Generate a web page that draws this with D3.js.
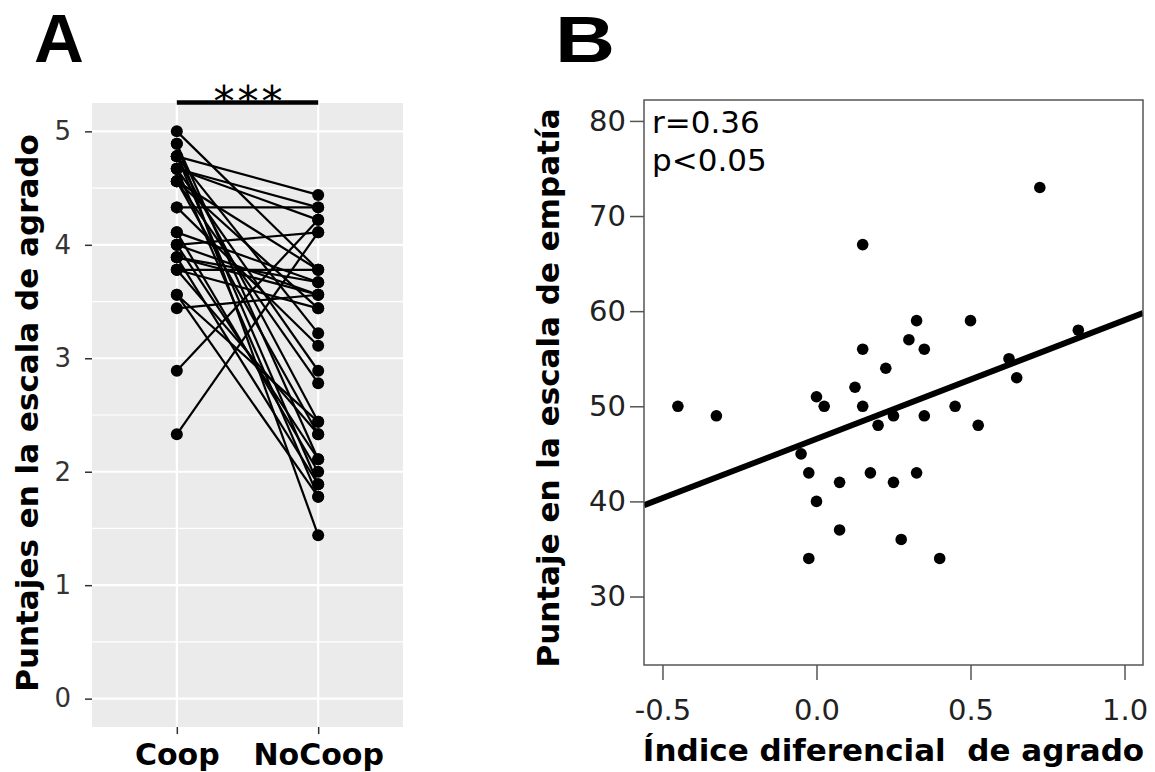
<!DOCTYPE html>
<html>
<head>
<meta charset="utf-8">
<script src="https://cdn.jsdelivr.net/npm/d3@7"></script>
<style>
  body { margin: 0; background: white; }
  text { font-family: "DejaVu Sans", sans-serif; }
</style>
</head>
<body>
<svg id="chart" width="1155" height="772"></svg>
<script>
// Panel A data: one entry per subject (Coop -> NoCoop)
const conditions = ["Coop", "NoCoop"];
const coop = [5.00, 4.89, 4.89, 4.78, 4.78, 4.78, 4.78, 4.67, 4.67, 4.67, 4.67,
  4.56, 4.56, 4.56, 4.56, 4.33, 4.33, 4.11, 4.11, 4.00, 4.00, 4.00,
  3.89, 3.89, 3.89, 3.78, 3.78, 3.78, 3.56, 3.56, 3.44, 2.89, 2.33];
const noCoop = [3.78, 1.44, 2.11, 4.44, 2.44, 3.22, 1.89, 4.33, 4.22, 2.89, 1.78,
  3.78, 3.44, 2.33, 2.78, 4.33, 3.11, 3.67, 2.00, 4.11, 3.56, 2.11,
  3.56, 1.89, 3.67, 3.78, 2.33, 3.44, 1.78, 2.44, 3.56, 4.22, 4.11];
const aTicks = [0, 1, 2, 3, 4, 5];
const aMinor = [0.5, 1.5, 2.5, 3.5, 4.5];

// Panel B data
const indice = [0.725, 0.15, 0.325, 0.5, 0.85, 0.3, 0.15, 0.35, -0.45, -0.325,
  0.0, 0.025, 0.125, 0.15, 0.225, 0.25, 0.2, 0.35, 0.45, 0.525, 0.625, 0.65,
  -0.05, -0.025, 0.175, 0.325, 0.075, 0.25, 0.0, 0.075, 0.275, -0.025, 0.4];
const empatia = [73, 67, 59, 59, 58, 57, 56, 56, 50, 49,
  51, 50, 52, 50, 54, 49, 48, 49, 50, 48, 55, 53,
  45, 43, 43, 43, 42, 42, 40, 37, 36, 34, 34];
const bxTicks = [-0.5, 0.0, 0.5, 1.0];
const byTicks = [30, 40, 50, 60, 70, 80];

const svg = d3.select("#chart");

// ---------- Panel A ----------
const aLeft = 92, aRight = 403, aTop = 103, aBottom = 727;
const ax = d3.scalePoint().domain(conditions).range([aLeft, aRight]).padding(0.6);
const ay = d3.scaleLinear().domain([-0.25, 5.25]).range([aBottom, aTop]);

const gA = svg.append("g");
gA.append("rect")
  .attr("x", aLeft).attr("y", aTop)
  .attr("width", aRight - aLeft).attr("height", aBottom - aTop)
  .attr("fill", "#EBEBEB");

// grid
gA.selectAll("line.minor").data(aMinor).enter().append("line")
  .attr("x1", aLeft).attr("x2", aRight)
  .attr("y1", d => ay(d)).attr("y2", d => ay(d))
  .attr("stroke", "white").attr("stroke-width", 1.2);
gA.selectAll("line.major").data(aTicks).enter().append("line")
  .attr("x1", aLeft).attr("x2", aRight)
  .attr("y1", d => ay(d)).attr("y2", d => ay(d))
  .attr("stroke", "white").attr("stroke-width", 2.2);
gA.selectAll("line.vgrid").data(conditions).enter().append("line")
  .attr("x1", d => ax(d)).attr("x2", d => ax(d))
  .attr("y1", aTop).attr("y2", aBottom)
  .attr("stroke", "white").attr("stroke-width", 2.2);

// axes
const yAxisA = gA.append("g").attr("transform", `translate(${aLeft},0)`)
  .call(d3.axisLeft(ay).tickValues(aTicks).tickSize(7).tickPadding(14).tickFormat(d3.format("d")));
const xAxisA = gA.append("g").attr("transform", `translate(0,${aBottom})`)
  .call(d3.axisBottom(ax).tickSize(7));
[yAxisA, xAxisA].forEach(a => {
  a.select(".domain").remove();
  a.selectAll(".tick line").attr("stroke", "#333").attr("stroke-width", 1.5);
});
yAxisA.selectAll(".tick text")
  .style("font-size", "26px").attr("fill", "#333");
xAxisA.selectAll(".tick text")
  .style("font-size", "30px").style("font-weight", "bold").attr("fill", "black")
  .attr("y", 38).attr("dy", 0);

// paired lines
const pairs = coop.map((c, i) => ({ c: c, n: noCoop[i] }));
gA.selectAll("line.pair").data(pairs).enter().append("line")
  .attr("x1", ax("Coop")).attr("y1", d => ay(d.c))
  .attr("x2", ax("NoCoop")).attr("y2", d => ay(d.n))
  .attr("stroke", "black").attr("stroke-width", 2.2);

// points
[["Coop", "c"], ["NoCoop", "n"]].forEach(([cond, key]) => {
  gA.selectAll("circle." + cond).data(pairs).enter().append("circle")
    .attr("cx", ax(cond)).attr("cy", d => ay(d[key]))
    .attr("r", 6).attr("fill", "black");
});

// significance bar
gA.append("line")
  .attr("x1", ax("Coop")).attr("x2", ax("NoCoop"))
  .attr("y1", 102.5).attr("y2", 102.5)
  .attr("stroke", "black").attr("stroke-width", 4.5);
gA.append("text")
  .attr("x", (ax("Coop") + ax("NoCoop")) / 2 + 2).attr("y", 116)
  .attr("text-anchor", "middle")
  .style("font-size", "42px").style("letter-spacing", "3px")
  .text("***");

gA.append("text")
  .attr("transform", "translate(38,413) rotate(-90)")
  .attr("text-anchor", "middle")
  .style("font-size", "31px").style("font-weight", "bold")
  .text("Puntajes en la escala de agrado");

svg.append("text")
  .attr("x", 34).attr("y", 62)
  .style("font-family", "Liberation Sans, Arial, sans-serif")
  .style("font-size", "69px").style("font-weight", "bold")
  .text("A");

// ---------- Panel B ----------
const bLeft = 644, bRight = 1143, bTop = 100, bBottom = 665;
const bx = d3.scaleLinear().domain([-0.56, 1.06]).range([bLeft, bRight]);
const by = d3.scaleLinear().domain([22.8, 82.2]).range([bBottom, bTop]);

const gB = svg.append("g");

const xAxisB = gB.append("g").attr("transform", `translate(0,${bBottom})`)
  .call(d3.axisBottom(bx).tickValues(bxTicks).tickSize(15).tickPadding(19).tickFormat(d3.format(".1f")));
const yAxisB = gB.append("g").attr("transform", `translate(${bLeft},0)`)
  .call(d3.axisLeft(by).tickValues(byTicks).tickSize(14).tickPadding(4));
[xAxisB, yAxisB].forEach(a => {
  a.select(".domain").remove();
  a.selectAll(".tick line").attr("stroke", "#555").attr("stroke-width", 1.5);
  a.selectAll(".tick text").style("font-size", "29px").attr("fill", "#222");
});
xAxisB.selectAll(".tick text").text(d => d3.format(".1f")(d).replace("−", "-"));

// regression line (least squares on the points)
const mx = d3.mean(indice), my = d3.mean(empatia);
const slope = d3.sum(indice, (v, i) => (v - mx) * (empatia[i] - my)) /
  d3.sum(indice, v => (v - mx) * (v - mx));
const icpt = my - slope * mx;
gB.append("clipPath").attr("id", "clipB").append("rect")
  .attr("x", bLeft).attr("y", bTop).attr("width", bRight - bLeft).attr("height", bBottom - bTop);
gB.append("line")
  .attr("clip-path", "url(#clipB)")
  .attr("x1", bx(-0.56)).attr("y1", by(icpt + slope * -0.56))
  .attr("x2", bx(1.06)).attr("y2", by(icpt + slope * 1.06))
  .attr("stroke", "black").attr("stroke-width", 6);

gB.selectAll("circle").data(indice).enter().append("circle")
  .attr("cx", d => bx(d)).attr("cy", (d, i) => by(empatia[i]))
  .attr("r", 5.8).attr("fill", "black");

gB.append("rect")
  .attr("x", bLeft).attr("y", bTop)
  .attr("width", bRight - bLeft).attr("height", bBottom - bTop)
  .attr("fill", "none").attr("stroke", "#555").attr("stroke-width", 1.5);

gB.append("text").attr("x", 652).attr("y", 133)
  .style("font-size", "31px").text("r=0.36");
gB.append("text").attr("x", 652).attr("y", 171)
  .style("font-size", "31px").text("p<0.05");

gB.append("text")
  .attr("x", (bLeft + bRight) / 2).attr("y", 761)
  .attr("text-anchor", "middle")
  .style("font-size", "31px").style("font-weight", "bold").style("white-space", "pre")
  .text("Índice diferencial  de agrado");
gB.append("text")
  .attr("transform", "translate(559,388) rotate(-90)")
  .attr("text-anchor", "middle")
  .style("font-size", "31px").style("font-weight", "bold")
  .text("Puntaje en la escala de empatía");

svg.append("text")
  .attr("transform", "translate(555,62) scale(1.3,1)")
  .style("font-family", "Liberation Sans, Arial, sans-serif")
  .style("font-size", "64px").style("font-weight", "bold")
  .text("B");
</script>
</body>
</html>
